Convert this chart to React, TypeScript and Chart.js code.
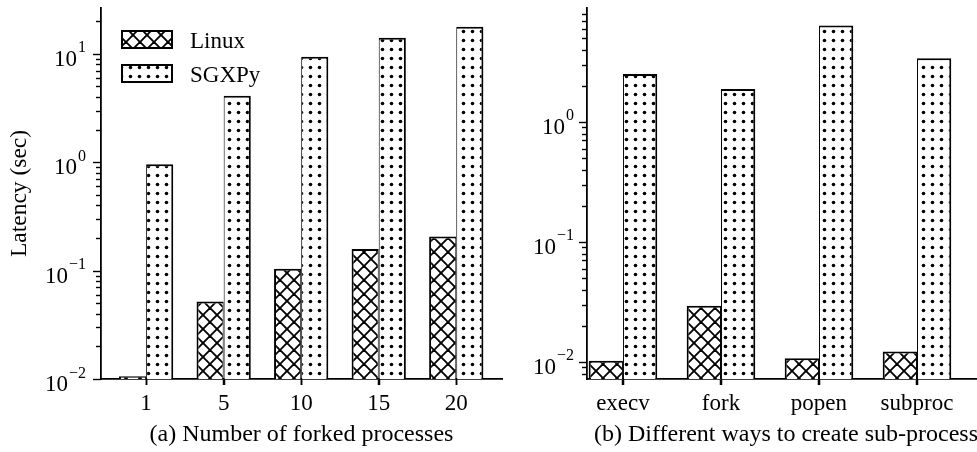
import React, { useEffect, useRef } from 'react';
import { Chart, registerables } from 'chart.js';

Chart.register(...registerables);

const FONT = "'Liberation Serif', 'Times New Roman', serif";

// ---- data ----
const forkCounts = ['1', '5', '10', '15', '20'];
const forkLinux = [0.0106, 0.052, 0.104, 0.158, 0.207];
const forkSGXPy = [0.96, 4.1, 9.4, 14.1, 17.8];

const methods = ['execv', 'fork', 'popen', 'subproc'];
const methodLinux = [0.0102, 0.0293, 0.0107, 0.0122];
const methodSGXPy = [2.51, 1.88, 6.35, 3.39];

const seriesNames = ['Linux', 'SGXPy'];
const leftYMajorExps = [-2, -1, 0, 1];
const rightYMajorExps = [-2, -1, 0];
const leftTitle = '(a) Number of forked processes';
const rightTitle = '(b) Different ways to create sub-process';
const yTitle = 'Latency (sec)';

function makeHatch(): CanvasPattern {
  const P = 14;
  const c = document.createElement('canvas');
  c.width = P;
  c.height = P;
  const g = c.getContext('2d')!;
  g.fillStyle = '#fff';
  g.fillRect(0, 0, P, P);
  g.strokeStyle = '#000';
  g.lineWidth = 1.9;
  for (let k = -1; k <= 1; k++) {
    g.beginPath();
    g.moveTo(k * P - 2, -2);
    g.lineTo(k * P + P + 2, P + 2);
    g.stroke();
    g.beginPath();
    g.moveTo(k * P - 2, P + 2);
    g.lineTo(k * P + P + 2, -2);
    g.stroke();
  }
  return g.createPattern(c, 'repeat')!;
}

function makeDots(): CanvasPattern {
  const P = 9;
  const c = document.createElement('canvas');
  c.width = P;
  c.height = P;
  const g = c.getContext('2d')!;
  g.fillStyle = '#fff';
  g.fillRect(0, 0, P, P);
  g.fillStyle = '#000';
  g.beginPath();
  g.arc(4.5, 4.5, 1.8, 0, Math.PI * 2);
  g.fill();
  return g.createPattern(c, 'repeat')!;
}

const logAxisPlugin = {
  id: 'logAxis',
  afterDraw(chart: any, _args: any, opts: any) {
    const s = chart.scales.y;
    const xs = chart.scales.x;
    const ctx = chart.ctx as CanvasRenderingContext2D;
    const ax = s.right;
    ctx.save();
    ctx.strokeStyle = '#000';
    ctx.lineWidth = 1.4;
    const e0 = Math.floor(Math.log10(s.min));
    const e1 = Math.ceil(Math.log10(s.max));
    for (let e = e0; e <= e1; e++) {
      for (let m = 1; m <= 9; m++) {
        const v = m * Math.pow(10, e);
        if (v < s.min * 0.999 || v > s.max * 1.001) continue;
        const py = Math.round(s.getPixelForValue(v)) + 0.5;
        const len = m === 1 ? 8 : 5;
        ctx.beginPath();
        ctx.moveTo(ax - len, py);
        ctx.lineTo(ax, py);
        ctx.stroke();
      }
    }
    // x tick marks at category centres
    ctx.lineWidth = 1.5;
    for (const t of xs.ticks) {
      const px = Math.round(xs.getPixelForValue(t.value)) + 0.5;
      ctx.beginPath();
      ctx.moveTo(px, xs.top);
      ctx.lineTo(px, xs.top + 6);
      ctx.stroke();
    }
    ctx.fillStyle = '#000';
    ctx.textAlign = 'right';
    ctx.textBaseline = 'alphabetic';
    for (const e of opts.majorExps as number[]) {
      const py = s.getPixelForValue(Math.pow(10, e));
      const sup = e < 0 ? '\u2212' + String(-e) : String(e);
      const xr = ax - opts.gap;
      ctx.font = `16px ${FONT}`;
      const sw = ctx.measureText(sup).width;
      ctx.fillText(sup, xr, py - 1.5);
      ctx.font = `23px ${FONT}`;
      ctx.fillText('10', xr - sw - 1, py + 12);
    }
    ctx.restore();
  },
};

const legendPlugin = {
  id: 'boxLegend',
  afterDraw(chart: any, _args: any, opts: any) {
    if (!opts || !opts.show) return;
    const ctx = chart.ctx as CanvasRenderingContext2D;
    ctx.save();
    const items = chart.data.datasets;
    items.forEach((ds: any, i: number) => {
      const top = 31 + i * 34;
      ctx.fillStyle = ds.backgroundColor;
      ctx.fillRect(122, top, 50, 17);
      ctx.strokeStyle = '#000';
      ctx.lineWidth = 2;
      ctx.strokeRect(122, top, 50, 17);
      ctx.fillStyle = '#000';
      ctx.font = `23px ${FONT}`;
      ctx.textAlign = 'left';
      ctx.textBaseline = 'alphabetic';
      ctx.fillText(ds.label, 190, top + 16.5);
    });
    ctx.restore();
  },
};

function makeConfig(opts: {
  cats: string[];
  linux: number[];
  sgx: number[];
  hatch: CanvasPattern;
  dots: CanvasPattern;
  xMin: number;
  xMax: number;
  yMin: number;
  yMax: number;
  yWidth: number;
  padRight: number;
  xTitle: string;
  yTitleText: string | null;
  majorExps: number[];
  gap: number;
  legend: boolean;
}): any {
  const fontTick = { family: FONT, size: 23 };
  return {
    type: 'bar',
    data: {
      datasets: [
        {
          label: seriesNames[0],
          data: opts.linux.map((v, i) => ({ x: i, y: v })),
          backgroundColor: opts.hatch,
          borderColor: '#000',
          borderWidth: { top: 2, left: 2, right: 1, bottom: 0 },
          borderSkipped: false,
        },
        {
          label: seriesNames[1],
          data: opts.sgx.map((v, i) => ({ x: i, y: v })),
          backgroundColor: opts.dots,
          borderColor: '#000',
          borderWidth: { top: 2, left: 1, right: 2, bottom: 0 },
          borderSkipped: false,
        },
      ],
    },
    options: {
      animation: false,
      responsive: true,
      maintainAspectRatio: false,
      categoryPercentage: 0.7,
      barPercentage: 1.0,
      layout: { padding: { left: 0, top: 8, right: opts.padRight, bottom: 0 } },
      plugins: {
        legend: { display: false },
        tooltip: { enabled: false },
        logAxis: { majorExps: opts.majorExps, gap: opts.gap },
        boxLegend: { show: opts.legend },
      },
      scales: {
        x: {
          type: 'linear',
          min: opts.xMin,
          max: opts.xMax,
          offset: false,
          bounds: 'data',
          afterBuildTicks: (s: any) => {
            s.ticks = opts.cats.map((_, i) => ({ value: i }));
          },
          afterFit: (s: any) => {
            s.height = 73;
          },
          ticks: {
            callback: (v: any) => opts.cats[Math.round(v)] ?? '',
            font: fontTick,
            color: '#000',
            padding: 5,
            maxRotation: 0,
            autoSkip: false,
          },
          grid: {
            display: true,
            offset: false,
            drawOnChartArea: false,
            drawTicks: true,
            tickLength: 6,
            tickColor: '#000',
            tickWidth: 1.5,
          },
          border: { display: true, color: '#000', width: 1.8 },
          title: {
            display: true,
            text: opts.xTitle,
            font: { family: FONT, size: 24 },
            color: '#000',
            padding: { top: 0, bottom: 3 },
          },
        },
        y: {
          type: 'logarithmic',
          min: opts.yMin,
          max: opts.yMax,
          afterFit: (s: any) => {
            s.width = opts.yWidth;
          },
          ticks: { display: false },
          grid: { display: false },
          border: { display: true, color: '#000', width: 1.8 },
          title: {
            display: !!opts.yTitleText,
            text: opts.yTitleText || '',
            font: { family: FONT, size: 23.5 },
            color: '#000',
            padding: { top: 6, bottom: 0 },
          },
        },
      },
    },
    plugins: [logAxisPlugin, legendPlugin],
  };
}

export default function App() {
  const leftRef = useRef<HTMLCanvasElement>(null);
  const rightRef = useRef<HTMLCanvasElement>(null);

  useEffect(() => {
    const hatch = makeHatch();
    const dots = makeDots();
    const c1 = new Chart(
      leftRef.current!,
      makeConfig({
        cats: forkCounts,
        linux: forkLinux,
        sgx: forkSGXPy,
        hatch,
        dots,
        xMin: -0.582,
        xMax: 4.59,
        yMin: 0.01,
        yMax: 26.5,
        yWidth: 101,
        padRight: 3,
        xTitle: leftTitle,
        yTitleText: yTitle,
        majorExps: leftYMajorExps,
        gap: 15,
        legend: true,
      })
    );
    const c2 = new Chart(
      rightRef.current!,
      makeConfig({
        cats: methods,
        linux: methodLinux,
        sgx: methodSGXPy,
        hatch,
        dots,
        xMin: -0.367,
        xMax: 3.694,
        yMin: 0.0072,
        yMax: 8.9,
        yWidth: 82,
        padRight: 5,
        xTitle: rightTitle,
        yTitleText: null,
        majorExps: rightYMajorExps,
        gap: 13,
        legend: false,
      })
    );
    return () => {
      c1.destroy();
      c2.destroy();
    };
  }, []);

  return (
    <div
      style={{
        position: 'fixed',
        left: 0,
        top: 0,
        width: 977,
        height: 452,
        overflow: 'hidden',
        background: '#fff',
      }}
    >
      <div style={{ position: 'absolute', left: 0, top: 0, width: 505, height: 452 }}>
        <canvas ref={leftRef} />
      </div>
      <div style={{ position: 'absolute', left: 505, top: 0, width: 485, height: 452 }}>
        <canvas ref={rightRef} />
      </div>
    </div>
  );
}
